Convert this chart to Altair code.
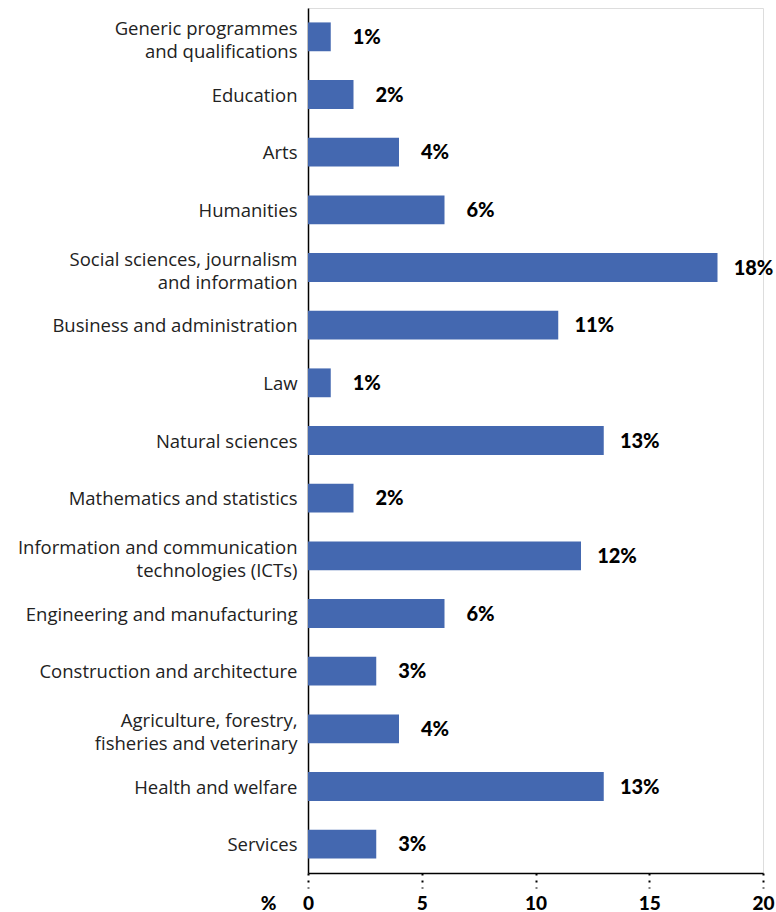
import altair as alt
import pandas as pd

categories = [
    "Generic programmes|and qualifications",
    "Education",
    "Arts",
    "Humanities",
    "Social sciences, journalism|and information",
    "Business and administration",
    "Law",
    "Natural sciences",
    "Mathematics and statistics",
    "Information and communication|technologies (ICTs)",
    "Engineering and manufacturing",
    "Construction and architecture",
    "Agriculture, forestry,|fisheries and veterinary",
    "Health and welfare",
    "Services",
]
values = [1, 2, 4, 6, 18, 11, 1, 13, 2, 12, 6, 3, 4, 13, 3]
x_ticks = [0, 5, 10, 15, 20]

df = pd.DataFrame({"cat": categories, "val": values})
df["lab"] = df["val"].astype(str) + "%"

y_enc = alt.Y(
    "cat:N",
    sort=None,
    title=None,
    scale=alt.Scale(paddingInner=0.5, paddingOuter=0.25),
    axis=alt.Axis(
        labelExpr="split(datum.label, '|')",
        labelFont="Open Sans",
        labelFontSize=18.5,
        labelColor="#222222",
        labelLineHeight=23,
        labelPadding=11,
        labelLimit=400,
        labelOffset={"condition": {"test": "indexof(datum.value, '|') >= 0", "value": -8}, "value": 1},
        ticks=False,
        domainColor="#000000",
        domainWidth=1.5,
    ),
)

x_enc = alt.X(
    "val:Q",
    scale=alt.Scale(domain=[0, 20], nice=False),
    axis=alt.Axis(
        values=x_ticks,
        grid=False,
        title="%",
        titleFont="Lato",
        titleFontSize=19,
        titleFontWeight=900,
        titleAngle=0,
        titleX=-40,
        titleY=30,
        titleAlign="center",
        titleBaseline="middle",
        labelFont="Lato",
        labelFontSize=19,
        labelFontWeight=900,
        labelColor="#000000",
        labelPadding=6,
        labelFlush=False,
        tickColor="#000000",
        tickSize=15,
        tickWidth=2,
        tickDash=[2, 5],
        domainColor="#000000",
        domainWidth=1.5,
    ),
)

bars = alt.Chart(df).mark_bar(color="#4468b0").encode(x=x_enc, y=y_enc)

text = alt.Chart(df).mark_text(
    align="center", baseline="middle", dx=36, dy=1, font="Lato", fontSize=20,
    fontWeight=900, color="#000000"
).encode(x="val:Q", y=alt.Y("cat:N", sort=None), text="lab:N")

chart = (
    alt.layer(bars, text)
    .properties(
        width=455,
        height=865,
        autosize=alt.AutoSizeParams(type="none"),
        padding={"left": 308, "top": 8, "right": 13, "bottom": 39},
    )
    .configure_view(stroke=None)
    .configure(background="white")
)

chart.save("out.html", embed_options={"renderer": "svg", "actions": False})
